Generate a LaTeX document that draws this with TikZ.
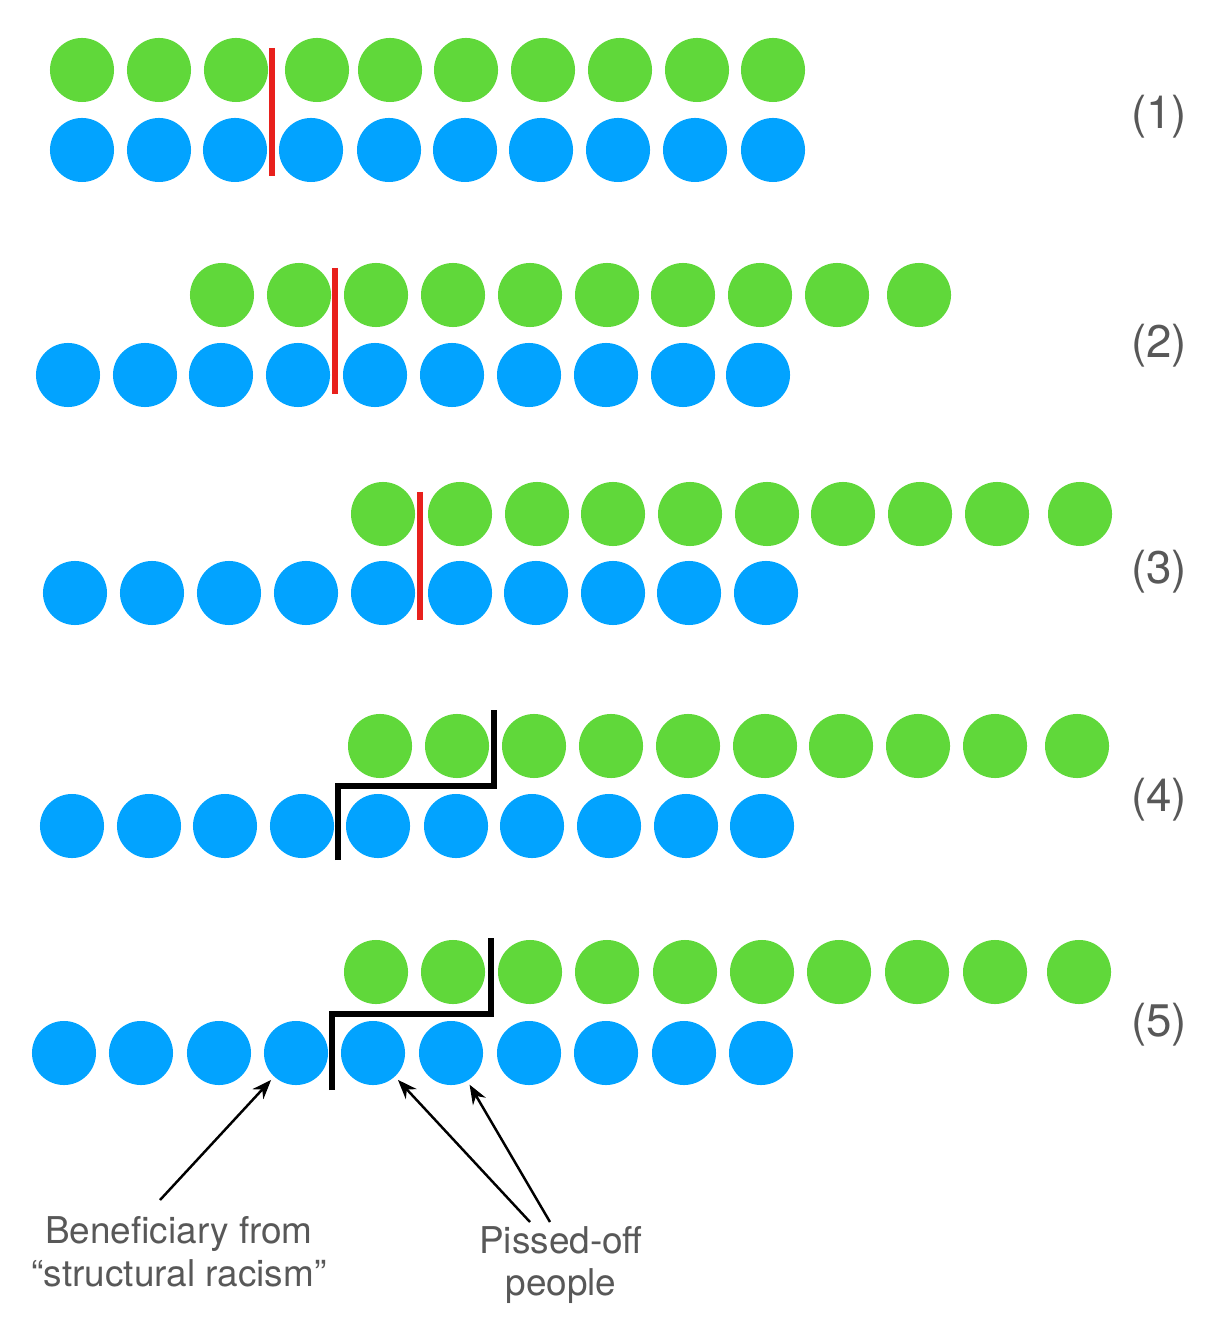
\documentclass[tikz,border=0pt]{standalone}
\usepackage{fontspec}
\setmainfont{TeX Gyre Heros}
\usepackage{xcolor}
\usetikzlibrary{arrows.meta}

\definecolor{dotgreen}{RGB}{96,216,58}
\definecolor{dotblue}{RGB}{2,163,255}
\definecolor{cutred}{RGB}{232,32,28}
\definecolor{txtgray}{RGB}{88,88,88}

\tikzset{%
  gdot/.style={circle,fill=dotgreen,minimum size=0.64cm,inner sep=0pt},%
  bdot/.style={circle,fill=dotblue,minimum size=0.64cm,inner sep=0pt},%
  cut/.style={draw=cutred,line width=1.6pt},%
  stair/.style={draw=black,line width=1.6pt},%
  rowlabel/.style={text=txtgray,font=\fontsize{13}{15}\selectfont},%
  note/.style={text=txtgray,align=center,inner sep=0pt},%
  pointer/.style={-{Stealth[length=5.5pt,width=4.2pt]},line width=0.7pt,shorten >=0.04cm}%
}

\begin{document}
\begin{tikzpicture}[x=0.01cm,y=-0.01cm]%
  \useasboundingbox (0,0) rectangle (1208,1319);%
  % row (1)
  \foreach \x [count=\i] in {82,159,236,317,390,466,543,620,697,773}%
    \node [gdot] (G1-\i) at (\x,70) {};%
  \foreach \x [count=\i] in {82,159,235,311,389,465,541,618,695,773}%
    \node [bdot] (B1-\i) at (\x,150) {};%
  \draw [cut] (272,48) -- (272,176);%
  \node [rowlabel] (L1) at (1159,117) {(1)};%
  % row (2)
  \foreach \x [count=\i] in {222,299,376,453,530,607,683,760,837,919}%
    \node [gdot] (G2-\i) at (\x,295) {};%
  \foreach \x [count=\i] in {68,145,221,298,375,452,529,606,683,758}%
    \node [bdot] (B2-\i) at (\x,375) {};%
  \draw [cut] (335,268) -- (335,394);%
  \node [rowlabel] (L2) at (1159,346) {(2)};%
  % row (3)
  \foreach \x [count=\i] in {383,460,537,613,690,767,843,920,997,1080}%
    \node [gdot] (G3-\i) at (\x,514) {};%
  \foreach \x [count=\i] in {75,152,229,306,383,460,536,613,689,766}%
    \node [bdot] (B3-\i) at (\x,593) {};%
  \draw [cut] (420,492) -- (420,620);%
  \node [rowlabel] (L3) at (1159,572) {(3)};%
  % row (4)
  \foreach \x [count=\i] in {380,457,534,611,688,765,841,918,995,1077}%
    \node [gdot] (G4-\i) at (\x,746) {};%
  \foreach \x [count=\i] in {72,149,225,302,378,456,532,609,686,762}%
    \node [bdot] (B4-\i) at (\x,826) {};%
  \draw [stair] (338,860) -- (338,786) -- (494,786) -- (494,710);%
  \node [rowlabel] (L4) at (1159,800) {(4)};%
  % row (5)
  \foreach \x [count=\i] in {376,453,530,607,685,762,839,917,995,1079}%
    \node [gdot] (G5-\i) at (\x,972) {};%
  \foreach \x [count=\i] in {64,141,219,296,373,451,529,606,684,761}%
    \node [bdot] (B5-\i) at (\x,1053) {};%
  \draw [stair] (332,1090) -- (332,1014) -- (491,1014) -- (491,938);%
  \node [rowlabel] (L5) at (1159,1025) {(5)};%
  % notes
  \node [note,font=\fontsize{10.5}{12.2}\selectfont] (benef) at (179,1252) {Beneficiary from\\``structural racism''};%
  \node [note,font=\fontsize{10.5}{12.2}\selectfont] (pissed) at (561,1265) {Pissed-off\\people};%
  \coordinate (t1) at (160,1200);%
  \coordinate (t2) at (530,1222);%
  \coordinate (t3) at (550,1222);%
  \draw [pointer] (t1) to (B5-4);%
  \draw [pointer] (t2) to (B5-5);%
  \draw [pointer] (t3) to (B5-6);%
\end{tikzpicture}
\end{document}
